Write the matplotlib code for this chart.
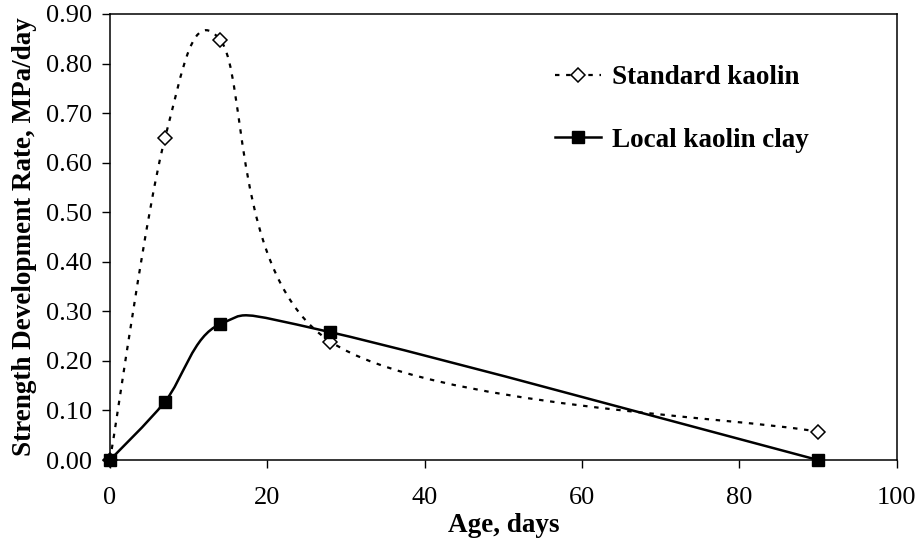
import matplotlib
matplotlib.use("Agg")
import matplotlib.pyplot as plt
from matplotlib.path import Path
from matplotlib.patches import PathPatch
from matplotlib.lines import Line2D
import numpy as np

# data
age = [0, 7, 14, 28, 90]
standard = [0.0, 0.65, 0.848, 0.239, 0.057]
local = [0.0, 0.118, 0.274, 0.258, 0.0]

plt.rcParams['font.family'] = ['Liberation Serif', 'DejaVu Serif']


def smooth_path(x, y):
    # Excel-like smoothed line: cubic bezier through every point
    p = np.column_stack([x, y]).astype(float)
    n = len(p)
    verts = [p[0]]
    codes = [Path.MOVETO]
    for i in range(n - 1):
        p0 = p[i - 1] if i > 0 else p[i]
        p1 = p[i]
        p2 = p[i + 1]
        p3 = p[i + 2] if i + 2 < n else p[i + 1]
        c1 = p1 + (p2 - p0) / 6.0
        c2 = p2 - (p3 - p1) / 6.0
        verts += [c1, c2, p2]
        codes += [Path.CURVE4] * 3
    return Path(verts, codes)


fig = plt.figure(figsize=(9.18, 5.5), dpi=100)
ax = fig.add_axes([0.1198, 0.1636, 0.857, 0.811])

dots = (0, (2, 3))
ax.add_patch(PathPatch(smooth_path(age, standard), fill=False,
                       edgecolor='black', lw=1.6, linestyle=dots, zorder=2))
ax.add_patch(PathPatch(smooth_path(age, local), fill=False,
                       edgecolor='black', lw=1.8, zorder=2))
ax.plot(age, standard, linestyle='none', marker='D', ms=7.5,
        mfc='white', mec='black', mew=1.1, zorder=3, clip_on=False)
ax.plot(age, local, linestyle='none', marker='s', ms=8.5,
        mfc='black', mec='black', zorder=4, clip_on=False)

ax.set_xlim(0, 100)
ax.set_ylim(0, 0.9)
ax.set_xticks([0, 20, 40, 60, 80, 100])
ax.set_yticks(np.arange(0, 0.91, 0.1))
ax.set_yticklabels([f"{v:.2f}" for v in np.arange(0, 0.91, 0.1)])
ax.tick_params(direction='out', length=6, width=1, labelsize=19)
ax.tick_params(axis='x', pad=13.5)
ax.tick_params(axis='y', pad=7)
for s in ax.spines.values():
    s.set_linewidth(1.1)

ax.set_xlabel("Age, days", fontsize=19.5, fontweight='bold', labelpad=2.5)
ax.set_ylabel("Strength Development Rate, MPa/day", fontsize=19.5,
              fontweight='bold', labelpad=6)

handles = [
    Line2D([], [], color='black', lw=1.6, linestyle=dots, marker='D',
           ms=7.5, mfc='white', mec='black', mew=1.1),
    Line2D([], [], color='black', lw=1.8, marker='s', ms=8.5,
           mfc='black', mec='black'),
]
leg = ax.legend(handles, ["Standard kaolin", "Local kaolin clay"],
                loc='upper left', bbox_to_anchor=(0.548, 0.915),
                frameon=False, borderpad=0, handlelength=1.7,
                handletextpad=0.4, labelspacing=1.37,
                prop={'size': 19.5, 'weight': 'bold'})

fig.savefig("out.png", dpi=100)
